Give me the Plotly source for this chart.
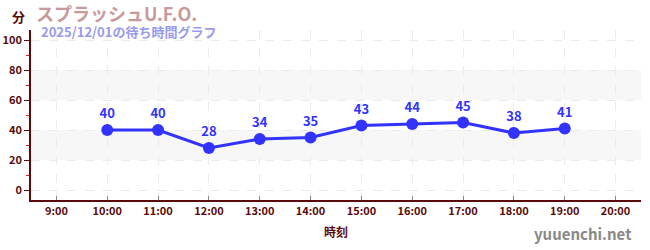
import plotly.graph_objects as go

hours = [10, 11, 12, 13, 14, 15, 16, 17, 18, 19]
waits = [40, 40, 28, 34, 35, 43, 44, 45, 38, 41]
x_tickvals = list(range(9, 21))
x_ticktext = [f"{h}:00" for h in x_tickvals]
y_tickvals = [0, 20, 40, 60, 80, 100]

FONT = "Noto Sans CJK JP"
MAROON = "#5a0a0a"

fig = go.Figure()
fig.add_trace(go.Scatter(
    x=hours, y=waits, mode="lines+markers+text",
    line=dict(color="#3333ff", width=3),
    marker=dict(color="#3333ff", size=12),
    text=[str(v) for v in waits], textposition="top center",
    textfont=dict(color="#3333ff", size=13, family=FONT, weight="bold"),
    cliponaxis=False, hoverinfo="skip",
))

for lo, hi in [(20, 40), (60, 80)]:
    fig.add_hrect(y0=lo, y1=hi, fillcolor="#f7f7f7", line_width=0, layer="below")

fig.update_layout(
    width=650, height=250,
    margin=dict(l=31, r=9, t=30, b=50, autoexpand=False),
    paper_bgcolor="white", plot_bgcolor="white",
    showlegend=False,
    font=dict(family=FONT, color=MAROON),
    xaxis=dict(
        range=[8.5, 20.5], tickvals=x_tickvals, ticktext=x_ticktext,
        showline=True, linecolor=MAROON, linewidth=1.5,
        ticks="inside", ticklen=4, tickcolor="#888888",
        tickfont=dict(size=11, color=MAROON, family=FONT, weight="bold"),
        showgrid=True, gridcolor="#ebebeb", griddash="dash", gridwidth=1,
        zeroline=False, automargin=False,
        title=dict(text="時刻", font=dict(size=12, color=MAROON, family=FONT, weight="bold"), standoff=12),
    ),
    yaxis=dict(
        range=[-6.67, 106.67], tickvals=y_tickvals,
        showline=True, linecolor=MAROON, linewidth=1.5,
        ticks="outside", ticklen=5, tickcolor=MAROON,
        tickfont=dict(size=11, color=MAROON, family=FONT, weight="bold"),
        showgrid=True, gridcolor="#ebebeb", griddash="dash", gridwidth=1,
        zeroline=False, automargin=False,
        minor=dict(dtick=10, ticks="outside", ticklen=3, tickcolor="#dd2222", showgrid=False),
    ),
)

fig.add_annotation(x=18, y=16, xref="paper", yref="paper", text="分", showarrow=False,
                   xanchor="center", yanchor="middle",
                   font=dict(size=13, color=MAROON, family=FONT, weight="bold"))
fig.add_annotation(x=34, y=13, xref="paper", yref="paper", text="スプラッシュU.F.O.", showarrow=False,
                   xanchor="left", yanchor="middle",
                   font=dict(size=18, color="#c99a9a", family=FONT, weight="bold"))
fig.add_annotation(x=39, y=32, xref="paper", yref="paper", text="2025/12/01の待ち時間グラフ", showarrow=False,
                   xanchor="left", yanchor="middle",
                   font=dict(size=13, color="#9999ee", family=FONT, weight="bold"))
fig.add_annotation(x=634, y=233, xref="paper", yref="paper", text="yuuenchi.net", showarrow=False,
                   xanchor="right", yanchor="middle",
                   font=dict(size=15, color="#888888", family=FONT, weight="bold"))

# convert pixel positions to paper coordinates
pw = 650 - 31 - 9
ph = 250 - 30 - 50
for ann in fig.layout.annotations:
    ann.x = (ann.x - 31) / pw
    ann.y = (250 - 50 - ann.y) / ph

fig.write_html("out.html")
